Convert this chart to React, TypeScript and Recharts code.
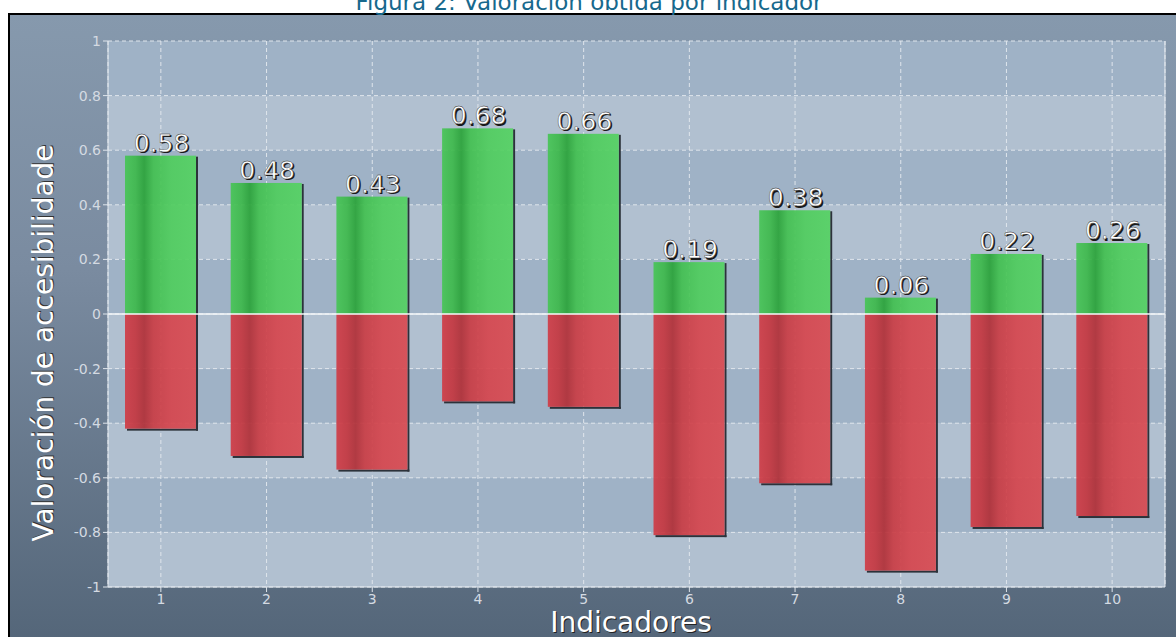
import React from 'react';
import { BarChart, Bar, XAxis, YAxis, CartesianGrid, ReferenceLine, LabelList } from 'recharts';

const categories = ['1', '2', '3', '4', '5', '6', '7', '8', '9', '10'];
const positiveScores = [0.58, 0.48, 0.43, 0.68, 0.66, 0.19, 0.38, 0.06, 0.22, 0.26];
const negativeScores = [-0.42, -0.52, -0.57, -0.32, -0.34, -0.81, -0.62, -0.94, -0.78, -0.74];
const yTicks = [-1, -0.8, -0.6, -0.4, -0.2, 0, 0.2, 0.4, 0.6, 0.8, 1];

const data = categories.map((name, i) => ({ name, pos: positiveScores[i], neg: negativeScores[i] }));

const WIDTH = 1176;
const HEIGHT = 637;
const FONT = "'DejaVu Sans', Verdana, sans-serif";
const SHADOW = '#2c323a';

// eslint-disable-next-line @typescript-eslint/no-explicit-any
const GreenBar = (props: any) => {
    const { x, y, width, height } = props;
    const top = Math.min(y, y + height);
    const h = Math.abs(height);
    if (!h) return null;
    return (
        <g>
            <rect x={x + width} y={top + 1} width={2} height={h} fill={SHADOW} />
            <rect x={x} y={top} width={width} height={h} fill="url(#gradGreen)" fillOpacity={0.92} />
        </g>
    );
};

// eslint-disable-next-line @typescript-eslint/no-explicit-any
const RedBar = (props: any) => {
    const { x, y, width, height } = props;
    const top = Math.min(y, y + height);
    const h = Math.abs(height);
    if (!h) return null;
    return (
        <g>
            <rect x={x + width} y={top} width={2} height={h + 2} fill={SHADOW} />
            <rect x={x + 2} y={top + h} width={width} height={2} fill={SHADOW} />
            <rect x={x} y={top} width={width} height={h} fill="url(#gradRed)" fillOpacity={0.92} />
        </g>
    );
};

// eslint-disable-next-line @typescript-eslint/no-explicit-any
const ValueLabel = (props: any) => {
    const { x, y, width, value } = props;
    const cx = x + width / 2 + 1;
    const ty = y - 4;
    const txt = Number(value).toFixed(2);
    return (
        <g>
            <text x={cx + 1.5} y={ty + 1.5} textAnchor="middle" fontSize={25} fontFamily={FONT} fill="#1a1a1a">{txt}</text>
            <text x={cx} y={ty} textAnchor="middle" fontSize={25} fontFamily={FONT} fill="#ffffff" stroke="#222" strokeWidth={0.4}>{txt}</text>
        </g>
    );
};

export default function App() {
    const tickStyle = { fill: '#d4dae2', fontSize: 14, fontFamily: FONT };
    return (
        <div style={{ position: 'absolute', left: 0, top: 0, width: WIDTH, height: HEIGHT, overflow: 'hidden', background: '#ffffff' }}>
            <svg width={0} height={0} style={{ position: 'absolute' }}>
                <defs>
                    <linearGradient id="gradGreen" x1="0" y1="0" x2="1" y2="0">
                        <stop offset="0" stopColor="#47c556" />
                        <stop offset="0.15" stopColor="#3db94b" />
                        <stop offset="0.27" stopColor="#2aa339" />
                        <stop offset="0.4" stopColor="#42c050" />
                        <stop offset="0.65" stopColor="#4fcd5d" />
                        <stop offset="1" stopColor="#54d262" />
                    </linearGradient>
                    <linearGradient id="gradRed" x1="0" y1="0" x2="1" y2="0">
                        <stop offset="0" stopColor="#d03c46" />
                        <stop offset="0.15" stopColor="#c4363f" />
                        <stop offset="0.27" stopColor="#b12f37" />
                        <stop offset="0.4" stopColor="#c93c44" />
                        <stop offset="0.65" stopColor="#d6454d" />
                        <stop offset="1" stopColor="#d94a51" />
                    </linearGradient>
                </defs>
            </svg>

            {/* chart frame */}
            <div style={{
                position: 'absolute', left: 8, top: 13, width: WIDTH, height: HEIGHT,
                borderLeft: '2px solid #000', borderTop: '2px solid #000',
                background: 'linear-gradient(to bottom, #8699ad 0%, #7a8ba0 40%, #536578 100%)',
            }} />

            <div style={{ position: 'absolute', left: 0, top: 0 }}>
                <BarChart width={WIDTH} height={HEIGHT} data={data} stackOffset="sign" barSize={71}
                    margin={{ top: 41, right: 0, bottom: 0, left: 0 }}>
                    <CartesianGrid stroke="#dfe5ec" strokeDasharray="4 3"
                        horizontalFill={['#9fb2c6', '#b1c0d0']} fillOpacity={1} />
                    <XAxis dataKey="name" height={50} tick={tickStyle} tickSize={5} tickMargin={2}
                        axisLine={{ stroke: '#e2e8ee' }} tickLine={{ stroke: '#dfe5ec' }} />
                    <YAxis domain={[-1, 1]} ticks={yTicks} width={108} tick={tickStyle} tickSize={5} tickMargin={2}
                        axisLine={{ stroke: '#e2e8ee' }} tickLine={{ stroke: '#dfe5ec' }} interval={0} />
                    <YAxis yAxisId="edge" orientation="right" width={11} tick={false} tickLine={false}
                        axisLine={{ stroke: '#e2e8ee' }} />
                    <Bar dataKey="pos" stackId="a" shape={GreenBar} isAnimationActive={false}>
                        <LabelList dataKey="pos" content={ValueLabel} />
                    </Bar>
                    <Bar dataKey="neg" stackId="a" shape={RedBar} isAnimationActive={false} />
                    <ReferenceLine y={0} stroke="#f6f8fa" strokeWidth={1.5} />
                </BarChart>
            </div>

            <svg width={WIDTH} height={HEIGHT} style={{ position: 'absolute', left: 0, top: 0, pointerEvents: 'none' }}>
                <text x={589} y={10} textAnchor="middle" fontSize={23} fontFamily={FONT} fill="#17698d">
                    Figura 2: Valoración obtida por indicador
                </text>
                <g fontSize={28} fontFamily={FONT} textAnchor="middle">
                    <text x={632} y={633} fill="#222">Indicadores</text>
                    <text x={631} y={632} fill="#ffffff">Indicadores</text>
                    <text transform="translate(53,343) rotate(-90)" x={1} y={1} fill="#333">Valoración de accesibilidade</text>
                    <text transform="translate(53,343) rotate(-90)" fill="#ffffff">Valoración de accesibilidade</text>
                </g>
            </svg>
        </div>
    );
}
